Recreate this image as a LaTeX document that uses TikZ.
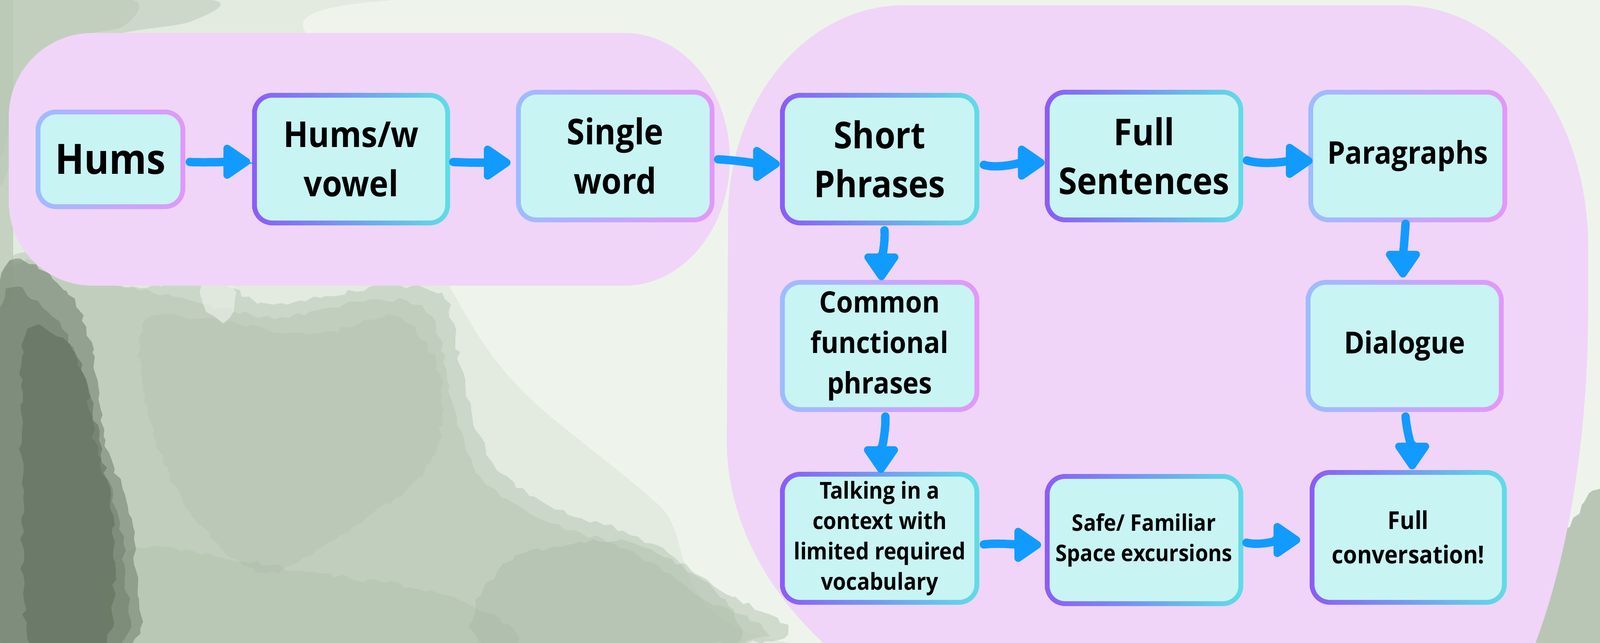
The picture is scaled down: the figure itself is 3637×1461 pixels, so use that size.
\documentclass[tikz,border=0pt]{standalone}
\usepackage{fontspec}
\setmainfont{Open Sans}[FakeStretch=0.91]
\usetikzlibrary{arrows.meta,decorations.pathmorphing}
\definecolor{blobpink}{HTML}{F0D5F8}
\definecolor{boxfill}{HTML}{C8F4F4}
\definecolor{gAl}{HTML}{9DBCFE}
\definecolor{gAr}{HTML}{E298F9}
\definecolor{gBl}{HTML}{8B5CF6}
\definecolor{gBr}{HTML}{5FDDE6}
\definecolor{arrowblue}{HTML}{129BFE}
\definecolor{bgbase}{HTML}{E3EBE0}
\definecolor{bglight}{HTML}{EEF4EC}
\definecolor{bgmid}{HTML}{B9C7B5}
\definecolor{bgmid2}{HTML}{A3B3A0}
\definecolor{bgdark}{HTML}{6F7F6C}
\definecolor{bgdarkest}{HTML}{566653}
\newcommand{\fsz}[2]{\bfseries\fontsize{#1}{#2}\selectfont}
\tikzset{
  stepbox/.style={rectangle, rounded corners=23pt, inner sep=0pt, align=center,
    text=black,
    path picture={\fill[boxfill, rounded corners=17.5pt]
      ([shift={(5.5pt,5.5pt)}]path picture bounding box.south west) rectangle
      ([shift={(-5.5pt,-5.5pt)}]path picture bounding box.north east);}},
  gA/.style={left color=gAl, right color=gAr},
  gB/.style={left color=gBl, right color=gBr},
  arr/.style={draw=arrowblue, line width=9.5pt, line cap=round,
    -{Triangle[round, length=34pt, width=44pt]}},
  rag/.style={decorate, decoration={random steps, segment length=8pt, amplitude=3pt}},
}
\begin{document}
\begin{tikzpicture}[x=0.5pt, y=-0.5pt]
\useasboundingbox (0,0) rectangle (3637,1461);
\begin{scope}
\clip (0,0) rectangle (3637,1461);
% ---------- watercolour background ----------
\fill[bgbase] (0,0) rectangle (3637,1461);
\fill[bglight] plot[smooth cycle] coordinates {(900,0) (3637,0) (3637,1461) (1800,1461) (1500,1150) (1200,900) (1050,700) (800,200)};
% top-left grey wash
\fill[bgmid, opacity=0.5] plot[smooth cycle] coordinates {(0,0) (480,0) (430,50) (260,80) (90,160) (0,420)};
\fill[bgmid, opacity=0.5] plot[smooth cycle] coordinates {(0,0) (300,0) (280,60) (160,90) (50,200) (0,350)};
\fill[bgmid, opacity=0.7] (0,0) rectangle (30,700);
% main grey wash lower left
\fill[bgmid, opacity=0.55, rag] plot[smooth cycle] coordinates {(0,620) (300,650) (480,640) (620,690) (880,650) (1010,680) (1060,900) (1120,1050) (1250,1150) (1450,1220) (1620,1330) (1700,1461) (0,1461)};
\fill[bgmid, opacity=0.55, rag] plot[smooth cycle] coordinates {(0,640) (320,660) (500,700) (640,720) (860,680) (980,720) (1030,920) (1090,1080) (1230,1180) (1430,1250) (1580,1350) (1650,1461) (0,1461)};
\fill[bglight, opacity=0.6, rag] plot[smooth cycle] coordinates {(460,650) (530,655) (520,720) (470,705)};
\fill[bgmid2, opacity=0.2, rag] plot[smooth cycle] coordinates {(350,720) (700,760) (900,720) (1000,850) (980,1050) (800,1200) (600,1300) (420,1150) (330,900)};
\fill[bgmid2, opacity=0.3, rag] plot[smooth cycle] coordinates {(1150,1280) (1400,1230) (1600,1320) (1660,1461) (1100,1461)};
\fill[bgmid2, opacity=0.25, rag] plot[smooth cycle] coordinates {(300,1250) (700,1300) (1000,1350) (1150,1461) (300,1461)};
% dark band on the left
\fill[bgdark, opacity=0.55, rag] plot[smooth cycle] coordinates {(0,640) (150,660) (210,800) (240,1000) (290,1150) (310,1300) (300,1461) (0,1461)};
\fill[bgdark, opacity=0.55, rag] plot[smooth cycle] coordinates {(0,700) (120,720) (190,850) (215,1000) (265,1160) (285,1300) (275,1461) (0,1461)};
\fill[bgdarkest, opacity=0.45, rag] plot[smooth cycle] coordinates {(60,760) (170,800) (225,1000) (255,1200) (240,1461) (70,1461) (50,1100)};
% bottom right corner wash
\fill[bgmid2, opacity=0.7, rag] plot[smooth cycle] coordinates {(3480,1461) (3540,1250) (3637,1120) (3637,1461)};
% ---------- pink blobs ----------
\fill[blobpink] (20,265) .. controls (20,160) and (105,75) .. (210,75) -- (1420,75)
  .. controls (1552,75) and (1659,204) .. (1659,362)
  .. controls (1659,520) and (1552,649) .. (1420,649) -- (210,649)
  .. controls (105,649) and (20,564) .. (20,459) -- cycle;
\fill[blobpink] (1655,492) .. controls (1655,227) and (1834,12) .. (2055,12) -- (3184,12)
  .. controls (3419,12) and (3610,257) .. (3610,560) -- (3610,700)
  .. controls (3610,1307) and (3417,1800) .. (3180,1800) -- (2852,1800)
  .. controls (2190,1800) and (1652,1442) .. (1652,1000) -- cycle;
\end{scope}
% ---------- boxes ----------
\node[stepbox, gA, minimum width=170pt, minimum height=113pt, font=\fsz{47.5}{57}] (hums) at (251,362)
  {Hums};
\node[stepbox, gB, minimum width=225pt, minimum height=150.5pt, font=\fsz{40.5}{56}] (hw) at (798,361.5)
  {Hums/w\\vowel};
\node[stepbox, gA, minimum width=225.5pt, minimum height=150.5pt, font=\fsz{40.5}{56}] (single) at (1398.5,354.5)
  {Single\\word};
\node[stepbox, gB, minimum width=226.5pt, minimum height=150.5pt, font=\fsz{42}{55.5}] (short) at (1999.5,361.5)
  {Short\\Phrases};
\node[stepbox, gB, minimum width=225.5pt, minimum height=150.5pt, font=\fsz{42}{55.5}] (fullsent) at (2600.5,354.5)
  {Full\\Sentences};
\node[stepbox, gA, minimum width=226pt, minimum height=150.5pt, font=\fsz{35.5}{44}] (para) at (3200,354.5)
  {Paragraphs};
\node[stepbox, gA, minimum width=226.5pt, minimum height=150pt, font=\fsz{33.5}{46}] (common) at (1999.5,786)
  {Common\\functional\\phrases};
\node[stepbox, gA, minimum width=225pt, minimum height=150pt, font=\fsz{34.5}{44}] (dialogue) at (3193,786)
  {Dialogue};
\node[stepbox, gB, minimum width=226.5pt, minimum height=151pt, font=\fsz{26.5}{34.5}] (talking) at (1999.5,1223)
  {Talking in a\\context with\\limited required\\vocabulary};
\node[stepbox, gB, minimum width=225.5pt, minimum height=150pt, font=\fsz{26}{34.5}] (safe) at (2600.5,1227)
  {Safe/ Familiar\\Space excursions};
\node[stepbox, gB, minimum width=224pt, minimum height=153pt, font=\fsz{28}{39}] (fullconv) at (3201,1221)
  {Full\\conversation!};
% ---------- arrows ----------
\draw[arr] ([shift={(10,6)}]hums.east) .. controls +(30,2) and +(-40,0) .. ([shift={(-4,6)}]hw.west);
\draw[arr] ([shift={(7,6.5)}]hw.east) .. controls +(30,2) and +(-40,0) .. ([shift={(-12,15)}]single.west);
\draw[arr] ([shift={(8,7.5)}]single.east) .. controls +(40,2) and +(-40,0) .. ([shift={(0,11)}]short.west);
\draw[arr] ([shift={(10,13)}]short.east) .. controls +(30,10) and +(-50,0) .. ([shift={(0,15)}]fullsent.west);
\draw[arr] ([shift={(8,10)}]fullsent.east) .. controls +(40,12) and +(-50,0) .. ([shift={(10,11)}]para.west);
\draw[arr] ([shift={(11,11)}]short.south) .. controls +(2,30) and +(0,-40) .. ([shift={(4,1)}]common.north);
\draw[arr] ([shift={(-5,3)}]para.south) .. controls +(-2,30) and +(0,-40) .. ([shift={(-4,-5)}]dialogue.north);
\draw[arr] ([shift={(13,10)}]common.south) .. controls +(2,30) and +(0,-40) .. ([shift={(3,3)}]talking.north);
\draw[arr] ([shift={(2,10)}]dialogue.south) .. controls +(2,30) and +(0,-40) .. ([shift={(9,-1)}]fullconv.north);
\draw[arr] ([shift={(10,14)}]talking.east) .. controls +(30,-4) and +(-40,0) .. ([shift={(-8,11)}]safe.west);
\draw[arr] ([shift={(7,6)}]safe.east) .. controls +(30,8) and +(-40,0) .. ([shift={(-21,6)}]fullconv.west);
\end{tikzpicture}
\end{document}
